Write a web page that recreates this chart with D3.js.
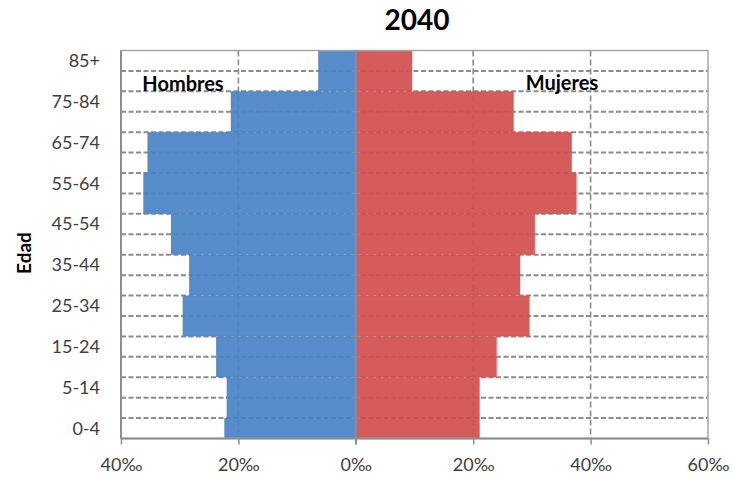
<!DOCTYPE html>
<html>
<head>
<meta charset="utf-8">
<script src="https://cdn.jsdelivr.net/npm/d3@7"></script>
<style>
  html, body { margin: 0; padding: 0; background: #fff; }
  svg { display: block; font-family: Lato, "Open Sans", sans-serif; }
</style>
</head>
<body>
<svg id="chart" width="733" height="478"></svg>
<script>
// ---- data ----
const ageGroups = ["0-4", "5-14", "15-24", "25-34", "35-44", "45-54", "55-64", "65-74", "75-84", "85+"];
const ageStart  = [0, 5, 15, 25, 35, 45, 55, 65, 75, 85];
const ageEnd    = [5, 15, 25, 35, 45, 55, 65, 75, 85, 95];
const hombres   = [22.4, 22.0, 23.8, 29.5, 28.4, 31.5, 36.2, 35.5, 21.3, 6.4];   // ‰
const mujeres   = [21.1, 21.1, 24.0, 29.6, 28.0, 30.5, 37.6, 36.8, 26.9, 9.6];   // ‰
const xTicks    = [-40, -20, 0, 20, 40, 60];
const ageGrid   = [5, 10, 15, 20, 25, 30, 35, 40, 45, 50, 55, 60, 65, 70, 75, 80, 85, 90];
const title     = "2040";

// ---- layout ----
const svg = d3.select("#chart");
const L = 121, R = 708, T = 50.5, B = 438.5;
const x = d3.scaleLinear().domain([-40, 60]).range([L, R]);
const y = d3.scaleLinear().domain([0, 95]).range([B, T]);
const gridColor = "#8c8c8c";
const axisColor = "#8e8e8e";

const rows = ageGroups.map((g, i) => ({ g, s: ageStart[i], e: ageEnd[i], m: hombres[i], f: mujeres[i] }));

// gridlines (behind bars)
svg.append("g").selectAll("line").data(ageGrid).join("line")
  .attr("x1", L).attr("x2", R)
  .attr("y1", d => y(d)).attr("y2", d => y(d))
  .attr("stroke", gridColor).attr("stroke-width", 2)
  .attr("stroke-dasharray", "5,2.5");
svg.append("g").selectAll("line").data(xTicks.filter(d => d !== 0 && d !== -40 && d !== 60)).join("line")
  .attr("x1", d => x(d)).attr("x2", d => x(d))
  .attr("y1", T).attr("y2", B)
  .attr("stroke", gridColor).attr("stroke-width", 1.6)
  .attr("stroke-dasharray", "6,3");

// bars
svg.append("g").selectAll("rect").data(rows).join("rect")
  .attr("x", d => x(-d.m)).attr("width", d => x(0) - x(-d.m))
  .attr("y", d => y(d.e)).attr("height", d => y(d.s) - y(d.e))
  .attr("fill", "#4a83c6").attr("fill-opacity", 0.93);
svg.append("g").selectAll("rect").data(rows).join("rect")
  .attr("x", x(0)).attr("width", d => x(d.f) - x(0))
  .attr("y", d => y(d.e)).attr("height", d => y(d.s) - y(d.e))
  .attr("fill", "#d2504d").attr("fill-opacity", 0.93);

// frame
svg.append("rect").attr("x", L).attr("y", T).attr("width", R - L).attr("height", B - T)
  .attr("fill", "none").attr("stroke", "#a6a6a6").attr("stroke-width", 1.5);
svg.append("line").attr("x1", L).attr("x2", L).attr("y1", T).attr("y2", B)
  .attr("stroke", axisColor).attr("stroke-width", 2);
svg.append("line").attr("x1", L).attr("x2", R).attr("y1", B).attr("y2", B)
  .attr("stroke", axisColor).attr("stroke-width", 2);

// central vertical axis at 0 with tick marks
svg.append("line").attr("x1", x(0)).attr("x2", x(0)).attr("y1", T).attr("y2", B + 6)
  .attr("stroke", axisColor).attr("stroke-width", 1.5);
svg.append("g").selectAll("line").data(ageGrid).join("line")
  .attr("x1", x(0) - 4).attr("x2", x(0) + 4)
  .attr("y1", d => y(d)).attr("y2", d => y(d))
  .attr("stroke", axisColor).attr("stroke-width", 1.5);

// x axis ticks + labels
const xAxis = d3.axisBottom(x).tickValues(xTicks).tickSize(6).tickPadding(14)
  .tickFormat(d => Math.abs(d) + "‰");
const gx = svg.append("g").attr("transform", `translate(0,${B})`).call(xAxis);
gx.select(".domain").remove();
gx.selectAll(".tick line").attr("stroke", axisColor).attr("stroke-width", 1.5);
gx.selectAll(".tick text").attr("font-size", 18).attr("fill", "#404040")
  .attr("font-family", "Lato, sans-serif");

// y labels
svg.append("g").selectAll("text").data(rows).join("text")
  .attr("x", 100).attr("y", d => y(d.e - 2.5))
  .attr("dy", "0.35em").attr("text-anchor", "end")
  .attr("font-size", 18).attr("fill", "#404040")
  .text(d => d.g);

// axis title
svg.append("text").attr("transform", "translate(31,253) rotate(-90)")
  .attr("text-anchor", "middle").attr("font-size", 19).attr("font-weight", "bold")
  .attr("fill", "#000").text("Edad");

// chart title
svg.append("text").attr("x", 417).attr("y", 30).attr("text-anchor", "middle")
  .attr("font-size", 28).attr("font-weight", "bold").attr("fill", "#000").text(title);

// sex labels
svg.append("text").attr("x", 183).attr("y", 91).attr("text-anchor", "middle")
  .attr("font-size", 20).attr("font-weight", "bold").attr("fill", "#000").text("Hombres");
svg.append("text").attr("x", 562).attr("y", 90).attr("text-anchor", "middle")
  .attr("font-size", 20).attr("font-weight", "bold").attr("fill", "#000").text("Mujeres");
</script>
</body>
</html>
